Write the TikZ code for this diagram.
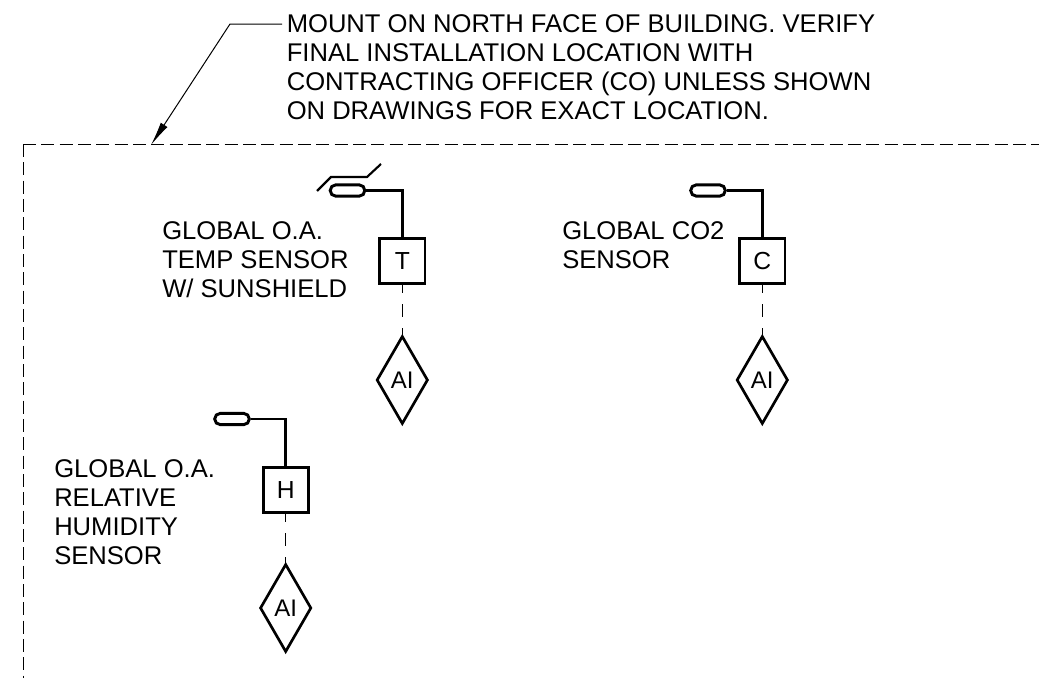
\documentclass[tikz,border=0pt]{standalone}
\usepackage{fontspec}
\setmainfont{Liberation Sans}
\usetikzlibrary{shapes.geometric,shapes.misc,arrows.meta}
\tikzset{
  lbl/.style={anchor=north west,inner sep=0pt,align=left,font=\fontsize{19.2pt}{21.7pt}\selectfont},
  boxn/.style={draw,line width=2.2pt,minimum size=34pt,inner sep=0pt,font=\fontsize{18.5pt}{20pt}\selectfont},
  dia/.style={draw,line width=2pt,diamond,aspect=0.58,minimum width=38.5pt,minimum height=66pt,inner sep=0pt,font=\fontsize{18pt}{20pt}\selectfont},
  pill/.style={draw,line width=2.2pt,rounded rectangle,minimum width=26pt,minimum height=8.5pt,inner sep=0pt},
  wire/.style={line width=2.2pt},
  shield/.style={line width=1.6pt},
  sig/.style={line width=0.75pt,dash pattern=on 9.75pt off 8.25pt,dash phase=3.75pt},
  bound/.style={line width=0.75pt,dash pattern=on 9.75pt off 4pt},
  lead/.style={line width=0.75pt}
}
\begin{document}
\begin{tikzpicture}[x=0.75pt,y=-0.75pt]
\useasboundingbox (0,0) rectangle (1039,678);
% boundary
\coordinate (bl) at (23,678);
\coordinate (bc) at (23,144);
\coordinate (br) at (1039,144);
\draw[bound] (bc) -- (bl);
\draw[bound] (bc) -- (br);
% leader
\node[lbl] (note) at (286.5,14.5) {MOUNT ON NORTH FACE OF BUILDING. VERIFY\\FINAL INSTALLATION LOCATION WITH\\CONTRACTING OFFICER (CO) UNLESS SHOWN\\ON DRAWINGS FOR EXACT LOCATION.};
\coordinate (l0) at (282,24);
\coordinate (l1) at (230,24);
\coordinate (tip) at (151,145);
\draw[lead,-{Latex[length=18pt,width=6pt]}] (l0) -- (l1) -- (tip);
% T
\node[boxn] (T) at (402.3,261) {T};
\node[dia] (AT) at (402.3,380) {AI};
\node[pill] (PT) at (347.5,190.5) {};
\draw[wire] (PT.east) -| (T.north);
\draw[sig] (T.south) -- (AT.north);
\coordinate (s0) at (317,191);
\coordinate (s1) at (331,177);
\coordinate (s2) at (367,177);
\coordinate (s3) at (381,164);
\draw[shield] (s0) -- (s1) -- (s2) -- (s3);
\node[lbl] (LT) at (162,221.5) {GLOBAL O.A.\\TEMP SENSOR\\W/ SUNSHIELD};
% C
\node[boxn] (C) at (762.3,261) {C};
\node[dia] (AC) at (762.3,380) {AI};
\node[pill] (PC) at (708,190.5) {};
\draw[wire] (PC.east) -| (C.north);
\draw[sig] (C.south) -- (AC.north);
\node[lbl] (LC) at (562,221.5) {GLOBAL CO2\\SENSOR};
% H
\node[boxn] (H) at (285.7,490) {H};
\node[dia] (AH) at (285.7,608) {AI};
\node[pill] (PH) at (232,419) {};
\draw[wire] (PH.east) -| (H.north);
\draw[sig] (H.south) -- (AH.north);
\node[lbl] (LH) at (54,459.5) {GLOBAL O.A.\\RELATIVE\\HUMIDITY\\SENSOR};
\end{tikzpicture}
\end{document}
